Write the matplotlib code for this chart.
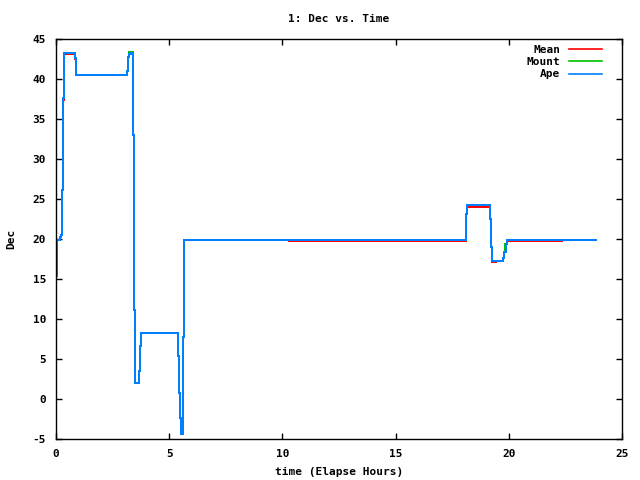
import matplotlib
matplotlib.use("Agg")
import matplotlib.pyplot as plt

# Elapsed time (hours) and Dec values, step series
ape_t = [0.00, 0.02, 0.05, 0.18, 0.22, 0.26, 0.31, 0.35, 0.84, 0.90, 3.12, 3.17, 3.24,
         3.30, 3.41, 3.46, 3.50, 3.68, 3.72, 3.77, 5.37, 5.42, 5.46, 5.51, 5.62, 5.67,
         18.10, 18.13, 18.17, 19.18, 19.21, 19.24, 19.76, 19.81, 19.87, 19.94, 23.84]
ape_v = [6.5, 15.4, 19.9, 20.2, 20.5, 26.1, 37.6, 43.3, 42.6, 40.5, 41.0, 42.8, 43.1,
         43.3, 33.0, 11.1, 2.0, 3.5, 6.6, 8.2, 5.4, 0.75, -2.4, -4.4, 7.8, 19.85,
         20.8, 23.1, 24.3, 22.5, 19.0, 17.3, 17.6, 18.35, 19.4, 19.85, 19.85]

mount_t = [0.00, 0.02, 0.05, 0.18, 0.22, 0.26, 0.31, 0.35, 0.84, 0.90, 3.12, 3.17, 3.22,
           3.41, 3.46, 3.50, 3.68, 3.72, 3.77, 5.37, 5.42, 5.46, 5.51, 5.62, 5.67,
           18.10, 18.13, 18.17, 19.18, 19.21, 19.24, 19.74, 19.79, 19.85, 19.92, 23.84]
mount_v = [6.5, 15.4, 19.9, 20.2, 20.5, 26.1, 37.6, 43.3, 42.6, 40.5, 41.0, 42.8, 43.4,
           33.0, 11.1, 2.0, 3.5, 6.6, 8.2, 5.4, 0.75, -2.4, -4.4, 7.8, 19.85,
           20.8, 23.1, 24.3, 22.5, 19.0, 17.3, 17.6, 18.35, 19.4, 19.85, 19.85]

mean_t = [0.00, 0.02, 0.05, 0.18, 0.22, 0.26, 0.31, 0.35, 0.84, 0.90, 3.12, 3.17, 3.24,
          3.30, 3.41, 3.46, 3.50, 3.68, 3.72, 3.77, 5.37, 5.42, 5.46, 5.51, 5.62, 5.67,
          10.30, 18.10, 18.13, 18.17, 19.18, 19.21, 19.27, 19.42, 19.76, 19.81, 19.87,
          19.94, 22.34]
mean_v = [6.5, 15.4, 19.9, 20.2, 20.5, 26.1, 37.4, 43.1, 42.5, 40.5, 41.0, 42.8, 43.1,
          43.3, 33.0, 11.1, 2.0, 3.5, 6.6, 8.2, 5.4, 0.75, -2.4, -4.4, 7.8, 19.85,
          19.7, 20.8, 23.1, 24.0, 22.5, 19.0, 17.1, 17.3, 17.6, 18.35, 19.4,
          19.7, 19.7]

x_ticks = [0, 5, 10, 15, 20, 25]
y_ticks = [-5, 0, 5, 10, 15, 20, 25, 30, 35, 40, 45]

font = {"family": "DejaVu Sans Mono", "weight": "bold", "size": 8}
plt.rcParams["font.family"] = "DejaVu Sans Mono"
plt.rcParams["font.weight"] = "bold"

fig = plt.figure(figsize=(6.4, 4.8), dpi=100)
ax = fig.add_axes([56 / 640, 1 - 439 / 480, (622 - 56) / 640, (439 - 39) / 480])

ax.plot(mean_t, mean_v, drawstyle="steps-post", color="#ff0000", lw=1.2,
        antialiased=False, label="Mean")
ax.plot(mount_t, mount_v, drawstyle="steps-post", color="#00c000", lw=1.2,
        antialiased=False, label="Mount")
ax.plot(ape_t, ape_v, drawstyle="steps-post", color="#0080ff", lw=1.2,
        antialiased=False, label="Ape")

ax.set_xlim(0, 25)
ax.set_ylim(-5, 45)
ax.set_xticks(x_ticks)
ax.set_yticks(y_ticks)
ax.set_xticklabels([str(v) for v in x_ticks], fontdict=font)
ax.set_yticklabels([str(v) for v in y_ticks], fontdict=font)
ax.tick_params(direction="in", length=4, width=1, top=True, right=True, pad=7)
for s in ax.spines.values():
    s.set_linewidth(1)

ax.set_title("1: Dec vs. Time", fontdict=font, pad=12)
ax.set_xlabel("time (Elapse Hours)", fontdict=font, labelpad=6)
ax.set_ylabel("Dec", fontdict=font, labelpad=12)

leg = ax.legend(loc="upper right", frameon=False, markerfirst=False,
                prop={"family": "DejaVu Sans Mono", "weight": "bold", "size": 8},
                handlelength=3.0, labelspacing=0.22, borderaxespad=0.0,
                borderpad=0.5, handletextpad=0.8, bbox_to_anchor=(0.975, 1.0))

fig.savefig("out.png", dpi=100)
